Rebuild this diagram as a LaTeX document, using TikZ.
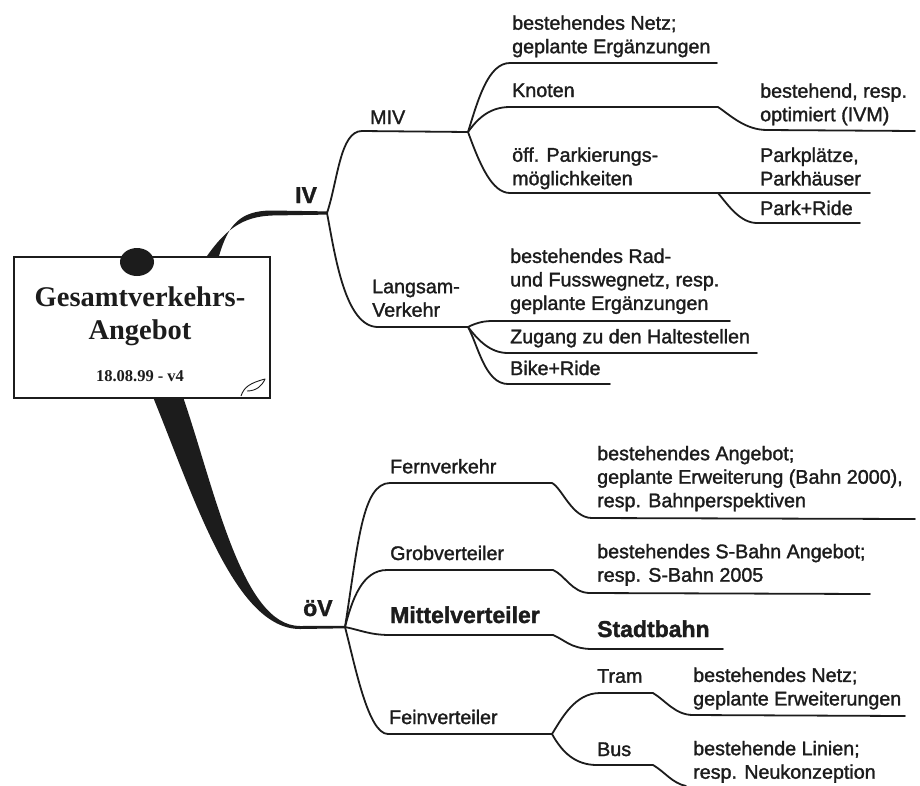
\documentclass[tikz,border=0pt]{standalone}
\usepackage{fontspec}
\setmainfont{Liberation Sans}[FakeBold=1.5]
\newfontfamily\titlefont{Liberation Serif}
\definecolor{ink}{HTML}{1C1C1C}
\begin{document}
\begin{tikzpicture}[x=1pt,y=-1pt,
  br/.style={draw=ink, line width=1.8pt, line join=round, line cap=round},
  lbl/.style={anchor=base west, inner sep=0pt, text=ink, font=\fontsize{19.7}{23.5}\selectfont},
  mlbl/.style={lbl, anchor=north west, yshift=16.45pt, align=left},
  blbl/.style={anchor=base west, inner sep=0pt, text=ink, font=\bfseries\fontsize{23}{27}\selectfont},
]
\useasboundingbox (0,0) rectangle (920,785);
\fill[white] (0,0) rectangle (920,785);

% junctions
\coordinate (jIV) at (327,213);
\coordinate (jMIV) at (468,132);
\coordinate (jLV) at (468,327);
\coordinate (jOV) at (345,627);
\coordinate (jKn) at (718,107);
\coordinate (jPk) at (718,193);
\coordinate (jFe) at (552,483);
\coordinate (jGr) at (553,570);
\coordinate (jMi) at (553,635);
\coordinate (jFv) at (552,734);
\coordinate (jTr) at (653,693);
\coordinate (jBu) at (653,765);

% thick main branches
\fill[ink] (203,270) -- (207,256) .. controls (226,229) and (243,216.5) .. (272,215.5) -- (327,214.6) -- (327,211.4) -- (272,210.5) .. controls (240,210.5) and (228,225) .. (219,256) -- (219,270) -- cycle;
\fill[ink] (150,385) -- (153,397) .. controls (195,500) and (235,629) .. (300,629) -- (345,628.3) -- (345,625.8) -- (300,626) .. controls (242,626) and (215,490) .. (183,397) -- (183,385) -- cycle;

% IV branches
\draw[br] (jIV) .. controls (338,180) and (340,131) .. (362,131) -- (jMIV);
\draw[br] (jIV) .. controls (335,255) and (345,327) .. (378,327) -- (jLV);

% MIV children
\draw[br] (jMIV) .. controls (478,100) and (488,63) .. (510,63) -- (717,63);
\draw[br] (jMIV) .. controls (478,118) and (490,107) .. (510,107) -- (jKn);
\draw[br] (jKn) .. controls (730,115) and (745,130) .. (767,130) -- (915,131);
\draw[br] (jMIV) .. controls (480,165) and (492,193) .. (510,193) -- (jPk) -- (870,193);
\draw[br] (jPk) .. controls (728,205) and (740,223) .. (757,223) -- (860,223);

% Langsamverkehr children
\draw[br] (jLV) .. controls (478,322) and (485,321) .. (493,321) -- (730,321);
\draw[br] (jLV) .. controls (478,340) and (490,353) .. (508,353) -- (757,353);
\draw[br] (jLV) .. controls (478,345) and (485,384) .. (508,384) -- (610,384);

% oeV children
\draw[br] (jOV) .. controls (358,545) and (362,483) .. (390,483) -- (jFe);
\draw[br] (jFe) .. controls (562,488) and (572,518) .. (592,518) -- (915,519);
\draw[br] (jOV) .. controls (352,600) and (362,570) .. (387,570) -- (jGr);
\draw[br] (jGr) .. controls (565,575) and (572,593) .. (590,593) -- (870,594);
\draw[br] (jOV) .. controls (360,630) and (370,635) .. (390,635) -- (jMi);
\draw[br] (jMi) .. controls (565,640) and (570,648) .. (590,649) -- (723,649);
\draw[br] (jOV) .. controls (355,665) and (368,734) .. (388,734) -- (jFv);
\draw[br] (jFv) .. controls (562,718) and (575,693) .. (600,693) -- (jTr);
\draw[br] (jTr) .. controls (665,700) and (675,715) .. (693,715) -- (905,716);
\draw[br] (jFv) .. controls (562,752) and (575,765) .. (597,765) -- (jBu);
\draw[br] (jBu) .. controls (665,772) and (672,783) .. (686,786);

% card
\node[draw=ink, line width=1.5pt, fill=white, minimum width=256pt, minimum height=141pt, inner sep=0pt, anchor=north west] (card) at (13,256) {};
\fill[ink] (137,262) ellipse [x radius=17pt, y radius=14pt];
\draw[ink, line width=0.9pt, line join=round] (241,396) .. controls (244,387) and (250,383) .. (265,379) .. controls (262,386) and (256,391) .. (247,391);
\node[anchor=north, inner sep=0pt, align=center, text=ink, font=\titlefont\bfseries\fontsize{28.5}{33}\selectfont, yshift=23.1pt] (title) at (140,306) {\strut Gesamtverkehrs-\\Angebot};
\node[anchor=base, inner sep=0pt, text=ink, font=\titlefont\bfseries\fontsize{16.5}{20}\selectfont] (date) at (140,381.7) {18.08.99 - v4};

% labels
\node[blbl] (IV) at (295,203) {IV};
\node[blbl] (oV) at (303,616) {öV};
\node[lbl] (MIV) at (370,124) {MIV};
\node[mlbl] (LV) at (372,293) {\strut Langsam-\\Verkehr};
\node[mlbl] (m1) at (512,29.5) {\strut bestehendes Netz;\\geplante Ergänzungen};
\node[lbl] (m2) at (512,97) {Knoten};
\node[mlbl] (m3) at (512,161.5) {\strut öff. Parkierungs-\\möglichkeiten};
\node[mlbl] (m2a) at (760,97.5) {\strut bestehend, resp.\\optimiert (IVM)};
\node[mlbl] (m3a) at (760,161.7) {\strut Parkplätze,\\Parkhäuser};
\node[lbl] (m3b) at (760,215) {Park+Ride};
\node[mlbl] (l1) at (510,262.7) {\strut bestehendes Rad-\\und Fusswegnetz, resp.\\geplante Ergänzungen};
\node[lbl] (l2) at (510,343.3) {Zugang zu den Haltestellen};
\node[lbl] (l3) at (510,375) {Bike+Ride};
\node[lbl] (o1) at (390,473.3) {Fernverkehr};
\node[mlbl] (o1a) at (597,460) {\strut bestehendes Angebot;\\geplante Erweiterung (Bahn 2000),\\resp. Bahnperspektiven};
\node[lbl] (o2) at (390,560) {Grobverteiler};
\node[mlbl] (o2a) at (597,558) {\strut bestehendes S-Bahn Angebot;\\resp. S-Bahn 2005};
\node[blbl] (o3) at (390,623) {Mittelverteiler};
\node[blbl] (o3a) at (597,637) {Stadtbahn};
\node[lbl] (o4) at (389,724) {Feinverteiler};
\node[lbl] (o4a) at (597,682.7) {Tram};
\node[mlbl] (o4a1) at (693,681.7) {\strut bestehendes Netz;\\geplante Erweiterungen};
\node[lbl] (o4b) at (597,756) {Bus};
\node[mlbl] (o4b1) at (693,755) {\strut bestehende Linien;\\resp. Neukonzeption};
\end{tikzpicture}
\end{document}
